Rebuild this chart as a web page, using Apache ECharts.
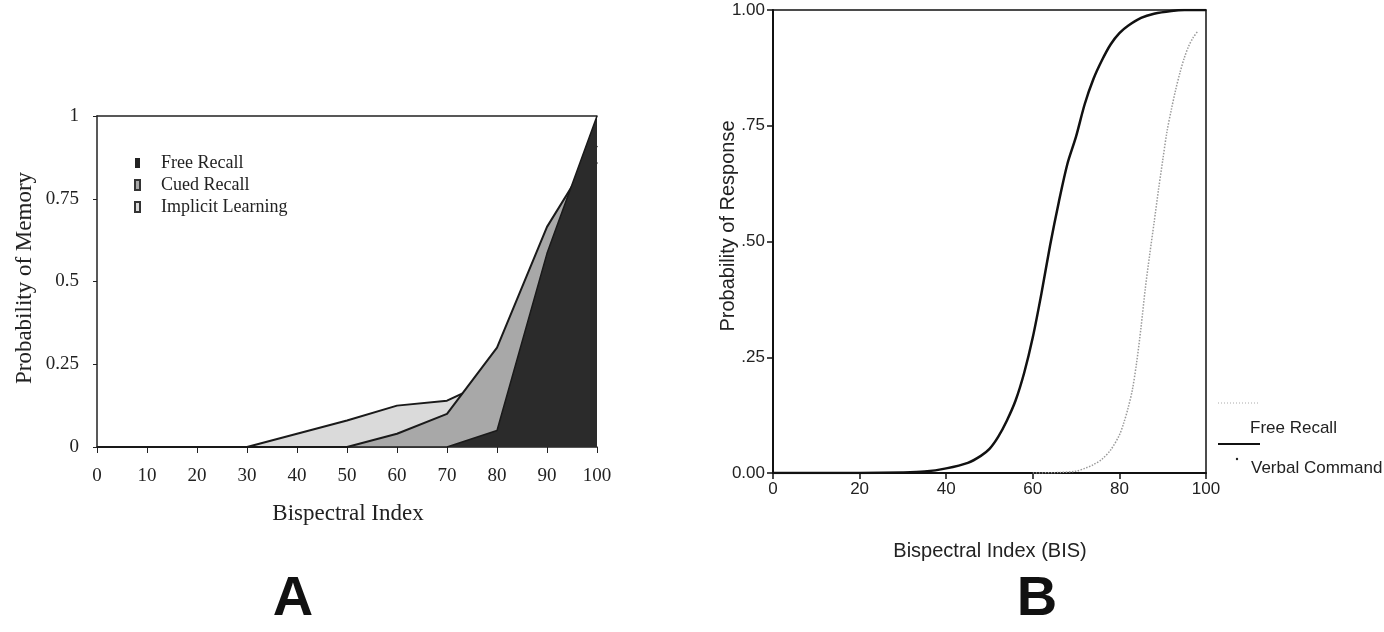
<!DOCTYPE html>
<html>
<head>
<meta charset="utf-8">
<script src="https://cdn.jsdelivr.net/npm/echarts@6/dist/echarts.min.js"></script>
<style>
html,body{margin:0;padding:0;background:#fff;}
#c{width:1384px;height:632px;}
</style>
</head>
<body>
<div id="c"></div>
<script>
// ---- Panel A data (Bispectral Index vs Probability of Memory) ----
var bisA = [0, 10, 20, 30, 40, 50, 60, 70, 80, 90, 100];
var implicitLearning = [0, 0, 0, 0, 0.04, 0.08, 0.125, 0.14, 0.21, 0.6, 0.86];
var cuedRecall = [0, 0, 0, 0, 0, 0, 0.04, 0.10, 0.30, 0.665, 0.91];
var freeRecallA = [0, 0, 0, 0, 0, 0, 0, 0, 0.05, 0.585, 1.0];
var yTickLabelsA = ['0', '0.25', '0.5', '0.75', '1'];

// ---- Panel B data (BIS vs Probability of Response) ----
var verbalX = [0, 20, 30, 35, 40, 45, 48, 50, 52, 54, 56, 58, 60, 62, 64, 66, 68, 70, 72, 74, 76, 78, 80, 82, 85, 88, 92, 95, 100];
var verbalY = [0, 0, 0.001, 0.003, 0.010, 0.022, 0.037, 0.052, 0.078, 0.113, 0.156, 0.216, 0.293, 0.388, 0.492, 0.585, 0.668, 0.727, 0.797, 0.851, 0.892, 0.926, 0.950, 0.966, 0.983, 0.992, 0.998, 1.0, 1.0];
var freeX = [60, 66, 70, 72, 74, 76, 78, 80, 81, 82, 83, 84, 85, 86, 87, 88, 89, 90, 91, 92, 93, 94, 95, 96, 97, 98];
var freeY = [0, 0.001, 0.004, 0.010, 0.018, 0.030, 0.050, 0.082, 0.108, 0.140, 0.180, 0.240, 0.315, 0.400, 0.472, 0.540, 0.610, 0.675, 0.738, 0.785, 0.828, 0.865, 0.897, 0.922, 0.940, 0.953];
var yTickLabelsB = ['0.00', '.25', '.50', '.75', '1.00'];

function pairs(xs, ys) { return xs.map(function (x, i) { return [x, ys[i]]; }); }

var serif = 'Liberation Serif';
var sans = 'Liberation Sans';

var chart = echarts.init(document.getElementById('c'), null, {renderer: 'canvas'});

var option = {
  animation: false,
  backgroundColor: '#ffffff',
  grid: [
    {left: 97, top: 116, width: 500, height: 331},
    {left: 773, top: 10, width: 433, height: 463}
  ],
  legend: {
    orient: 'vertical',
    left: 134, top: 154, padding: 0,
    itemWidth: 5, itemHeight: 10, itemGap: 4,
    icon: 'rect',
    data: ['Free Recall', 'Cued Recall', 'Implicit Learning'],
    textStyle: {fontFamily: serif, fontSize: 18, lineHeight: 18, color: '#222', padding: [0, 0, 0, 16]},
    selectedMode: false
  },
  xAxis: [
    {gridIndex: 0, type: 'value', min: 0, max: 100, interval: 10,
      axisLine: {show: true, lineStyle: {color: '#222', width: 1.5}},
      axisTick: {show: true, length: 6, lineStyle: {color: '#222'}},
      axisLabel: {margin: 20, fontFamily: serif, fontSize: 19, color: '#222'},
      splitLine: {show: false}},
    {gridIndex: 0, type: 'value', position: 'top', min: 0, max: 100,
      axisLine: {show: true, onZero: false, lineStyle: {color: '#222', width: 1.5}},
      axisTick: {show: false}, axisLabel: {show: false}, splitLine: {show: false}},
    {gridIndex: 1, type: 'value', min: 0, max: 100, interval: 20,
      axisLine: {show: true, lineStyle: {color: '#111', width: 2}},
      axisTick: {show: true, length: 6, lineStyle: {color: '#111', width: 1.5}},
      axisLabel: {margin: 8, fontFamily: sans, fontSize: 17, color: '#222'},
      splitLine: {show: false}},
    {gridIndex: 1, type: 'value', position: 'top', min: 0, max: 100,
      axisLine: {show: true, onZero: false, lineStyle: {color: '#111', width: 1.5}},
      axisTick: {show: false}, axisLabel: {show: false}, splitLine: {show: false}}
  ],
  yAxis: [
    {gridIndex: 0, type: 'value', min: 0, max: 1, interval: 0.25,
      axisLine: {show: true, lineStyle: {color: '#222', width: 1.5}},
      axisTick: {show: true, length: 4, lineStyle: {color: '#222'}},
      axisLabel: {margin: 18, fontFamily: serif, fontSize: 19, color: '#222',
        formatter: function (v) { return yTickLabelsA[Math.round(v / 0.25)]; }},
      splitLine: {show: false}},
    {gridIndex: 1, type: 'value', min: 0, max: 1, interval: 0.25,
      axisLine: {show: true, lineStyle: {color: '#111', width: 2}},
      axisTick: {show: true, length: 6, lineStyle: {color: '#111', width: 1.5}},
      axisLabel: {margin: 8, fontFamily: sans, fontSize: 17, color: '#222',
        formatter: function (v) { return yTickLabelsB[Math.round(v / 0.25)]; }},
      splitLine: {show: false}},
    {gridIndex: 1, type: 'value', position: 'right', min: 0, max: 1,
      axisLine: {show: true, onZero: false, lineStyle: {color: '#111', width: 1.5}},
      axisTick: {show: false}, axisLabel: {show: false}, splitLine: {show: false}}
  ],
  series: [
    {name: 'Implicit Learning', type: 'line', xAxisIndex: 0, yAxisIndex: 0, z: 1,
      data: pairs(bisA, implicitLearning), symbol: 'none',
      itemStyle: {color: '#dadada', borderColor: '#333', borderWidth: 1},
      lineStyle: {color: '#1a1a1a', width: 2},
      areaStyle: {color: '#dadada', opacity: 1}},
    {name: 'Cued Recall', type: 'line', xAxisIndex: 0, yAxisIndex: 0, z: 2,
      data: pairs(bisA, cuedRecall), symbol: 'none',
      itemStyle: {color: '#a8a8a8', borderColor: '#333', borderWidth: 1},
      lineStyle: {color: '#1a1a1a', width: 2},
      areaStyle: {color: '#a8a8a8', opacity: 1}},
    {name: 'Free Recall', type: 'line', xAxisIndex: 0, yAxisIndex: 0, z: 3,
      data: pairs(bisA, freeRecallA), symbol: 'none',
      itemStyle: {color: '#222222'},
      lineStyle: {color: '#1a1a1a', width: 1.5},
      areaStyle: {color: '#2b2b2b', opacity: 1}},
    {name: 'Free Recall B', type: 'line', xAxisIndex: 2, yAxisIndex: 1, z: 3,
      data: pairs(freeX, freeY), symbol: 'none', smooth: 0.3,
      lineStyle: {color: '#9a9a9a', width: 1.5, type: 'dotted'}},
    {name: 'Verbal Command', type: 'line', xAxisIndex: 2, yAxisIndex: 1, z: 4,
      data: pairs(verbalX, verbalY), symbol: 'none', smooth: 0.3,
      lineStyle: {color: '#111', width: 2.5}}
  ],
  graphic: [
    // Panel A titles
    {type: 'text', x: 348, y: 514, style: {text: 'Bispectral Index', font: '23px "Liberation Serif"', fill: '#222', align: 'center', verticalAlign: 'middle'}},
    {type: 'text', x: 25, y: 278, rotation: Math.PI / 2, style: {text: 'Probability of Memory', font: '23px "Liberation Serif"', fill: '#222', align: 'center', verticalAlign: 'middle'}},
    {type: 'text', x: 293, y: 600, style: {text: 'A', font: 'bold 56px "Liberation Sans"', fill: '#111', align: 'center', verticalAlign: 'middle'}},
    // Panel B titles
    {type: 'text', x: 990, y: 551, style: {text: 'Bispectral Index (BIS)', font: '20px "Liberation Sans"', fill: '#222', align: 'center', verticalAlign: 'middle'}},
    {type: 'text', x: 728, y: 226, rotation: Math.PI / 2, style: {text: 'Probability of Response', font: '20px "Liberation Sans"', fill: '#222', align: 'center', verticalAlign: 'middle'}},
    {type: 'text', x: 1037, y: 600, style: {text: 'B', font: 'bold 56px "Liberation Sans"', fill: '#111', align: 'center', verticalAlign: 'middle'}},
    // Panel B legend
    {type: 'line', shape: {x1: 1218, y1: 403, x2: 1260, y2: 403}, style: {stroke: '#aaa', lineWidth: 1, lineDash: [1, 2]}},
    {type: 'text', x: 1250, y: 428, style: {text: 'Free Recall', font: '17px "Liberation Sans"', fill: '#222', verticalAlign: 'middle'}},
    {type: 'line', shape: {x1: 1218, y1: 444, x2: 1260, y2: 444}, style: {stroke: '#111', lineWidth: 2}},
    {type: 'circle', shape: {cx: 1237, cy: 459, r: 1.2}, style: {fill: '#222'}},
    {type: 'text', x: 1251, y: 468, style: {text: 'Verbal Command', font: '17px "Liberation Sans"', fill: '#222', verticalAlign: 'middle'}}
  ]
};
chart.setOption(option);
</script>
</body>
</html>
